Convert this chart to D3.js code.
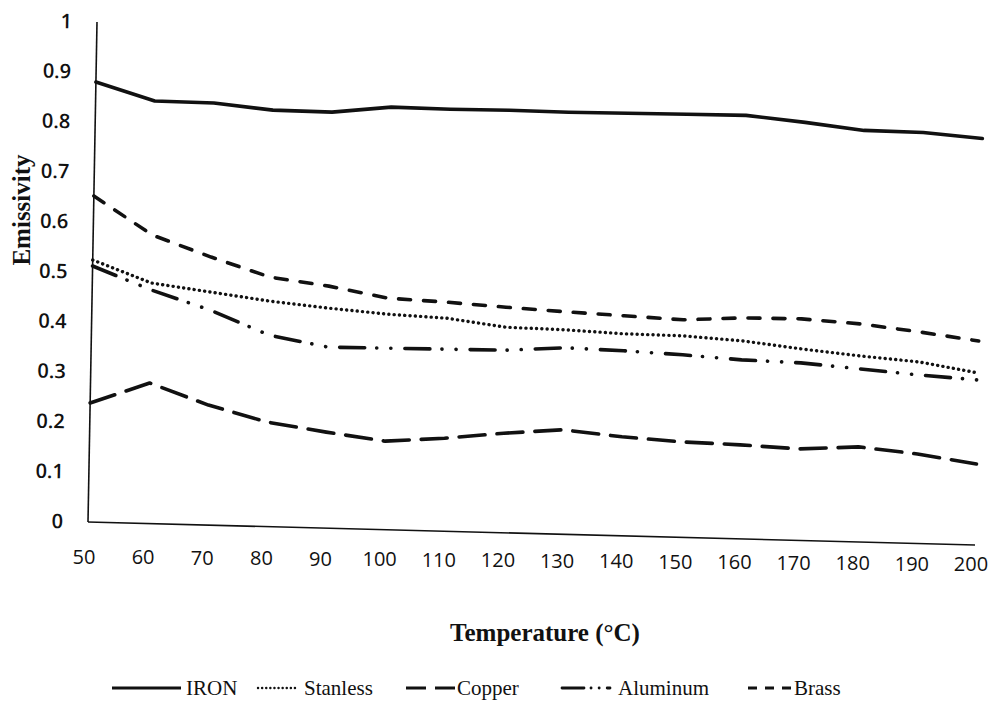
<!DOCTYPE html>
<html>
<head>
    <meta charset="UTF-8">
    <title>Emissivity vs Temperature</title>
    <style>
        body { margin: 0; background: #fff; }
        .tick-y { font: 600 20px "Open Sans", sans-serif; fill: #111; }
        .tick-x { font: 400 20px "Open Sans", sans-serif; fill: #111; }
        .axis-title { font: bold 25px "Liberation Serif", serif; fill: #111; }
        .legend-label { font: 21px "Liberation Serif", serif; fill: #111; }
    </style>
    <script src="https://d3js.org/d3.v7.min.js"></script>
</head>
<body>
<div id="chart"></div>
<script>
    // data
    const temps = [50, 60, 70, 80, 90, 100, 110, 120, 130, 140, 150, 160, 170, 180, 190, 200];
    const iron     = [0.880, 0.845, 0.844, 0.833, 0.832, 0.845, 0.844, 0.845, 0.844, 0.845, 0.846, 0.847, 0.836, 0.823, 0.822, 0.813];
    const stanless = [0.524, 0.481, 0.466, 0.451, 0.440, 0.431, 0.426, 0.411, 0.409, 0.404, 0.403, 0.396, 0.383, 0.372, 0.363, 0.344];
    const copper   = [0.238, 0.281, 0.240, 0.209, 0.192, 0.177, 0.186, 0.199, 0.209, 0.198, 0.191, 0.188, 0.183, 0.190, 0.179, 0.162];
    const aluminum = [0.512, 0.467, 0.430, 0.383, 0.362, 0.363, 0.364, 0.365, 0.373, 0.370, 0.365, 0.358, 0.355, 0.346, 0.337, 0.330];
    const brass    = [0.652, 0.577, 0.536, 0.499, 0.484, 0.463, 0.458, 0.451, 0.445, 0.440, 0.435, 0.442, 0.443, 0.436, 0.423, 0.408];
    const yTicks = [0, 0.1, 0.2, 0.3, 0.4, 0.5, 0.6, 0.7, 0.8, 0.9, 1];
    const seriesNames = ["IRON", "Stanless", "Copper", "Aluminum", "Brass"];

    const series = [
        {name: seriesNames[0], values: iron,     dash: null},
        {name: seriesNames[1], values: stanless, dash: "0.1 5.2"},
        {name: seriesNames[2], values: copper,   dash: "26 12"},
        {name: seriesNames[3], values: aluminum, dash: "25 12 0.1 14 0.1 14"},
        {name: seriesNames[4], values: brass,    dash: "12 13"}
    ];

    const W = 998, H = 717;
    const plotW = 887, plotH = 500;
    // the scan is slightly sheared, so the plot frame is too
    const shear = {a: 1, b: 0.0259, c: -0.018, d: 1, e: 88, f: 522};

    const svg = d3.select("#chart").append("svg")
        .attr("width", W)
        .attr("height", H);

    const x = d3.scaleLinear().domain([50, 200]).range([0, plotW]);
    const y = d3.scaleLinear().domain([0, 1]).range([0, -plotH]);

    const plot = svg.append("g")
        .attr("transform", `matrix(${shear.a},${shear.b},${shear.c},${shear.d},${shear.e},${shear.f})`);

    // axes
    plot.append("line")
        .attr("x1", 0).attr("y1", y(0)).attr("x2", 0).attr("y2", y(1))
        .attr("stroke", "#111").attr("stroke-width", 1.6);
    plot.append("line")
        .attr("x1", x(50)).attr("y1", 0).attr("x2", x(200)).attr("y2", 0)
        .attr("stroke", "#111").attr("stroke-width", 1.6);

    // y tick labels
    plot.selectAll(".tick-y")
        .data(yTicks)
        .join("text")
            .attr("class", "tick-y")
            .attr("x", -25)
            .attr("y", d => y(d))
            .attr("dy", "0.35em")
            .attr("text-anchor", "end")
            .text(d => d3.format("~g")(d));

    // lines
    const line = d3.line()
        .x((d, i) => x(temps[i]))
        .y(d => y(d));

    plot.selectAll(".series")
        .data(series)
        .join("path")
            .attr("class", "series")
            .attr("d", d => line(d.values))
            .attr("fill", "none")
            .attr("stroke", "#111")
            .attr("stroke-width", d => d.dash === "0.1 5.2" ? 3.4 : 3.6)
            .attr("stroke-linecap", "round")
            .attr("stroke-linejoin", "round")
            .attr("stroke-dasharray", d => d.dash);

    // x tick labels (the printed labels are less sheared than the axis)
    svg.selectAll(".tick-x")
        .data(temps)
        .join("text")
            .attr("class", "tick-x")
            .attr("x", d => shear.e + x(d) - 4)
            .attr("y", d => 564 + 7 * x(d) / plotW)
            .attr("text-anchor", "middle")
            .text(d => d);

    // axis titles
    svg.append("text")
        .attr("class", "axis-title")
        .attr("x", 545)
        .attr("y", 641)
        .attr("text-anchor", "middle")
        .text("Temperature (\u00B0C)");

    svg.append("text")
        .attr("class", "axis-title")
        .attr("transform", "translate(30,210) rotate(-90)")
        .attr("text-anchor", "middle")
        .text("Emissivity");

    // legend
    const legendItems = [
        {x0: 112, x1: 181, tx: 186},
        {x0: 258, x1: 299, tx: 304},
        {x0: 406, x1: 455, tx: 457},
        {x0: 562, x1: 610, tx: 618},
        {x0: 748, x1: 792, tx: 794}
    ];
    const legendDash = [null, "0.1 4", "20 9", "22 7 0.1 8 0.1 8", "9 8"];
    const legend = svg.append("g");
    legendItems.forEach((it, i) => {
        legend.append("line")
            .attr("x1", it.x0).attr("x2", it.x1)
            .attr("y1", 688).attr("y2", 688)
            .attr("stroke", "#111")
            .attr("stroke-width", i === 1 ? 2.4 : 2.8)
            .attr("stroke-linecap", i === 1 || i === 3 ? "round" : "butt")
            .attr("stroke-dasharray", legendDash[i]);
        legend.append("text")
            .attr("class", "legend-label")
            .attr("x", it.tx)
            .attr("y", 695)
            .text(series[i].name);
    });
</script>
</body>
</html>
